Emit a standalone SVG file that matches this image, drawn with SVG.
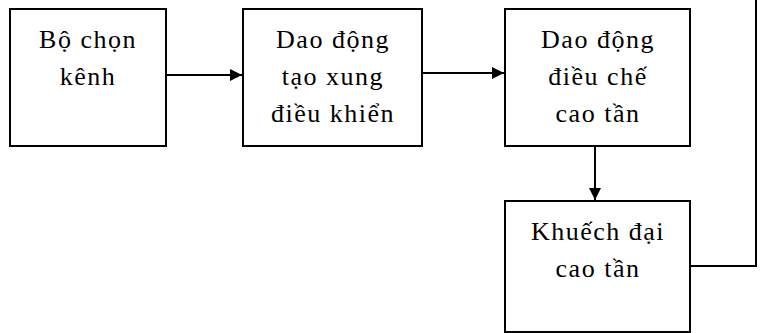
<svg xmlns="http://www.w3.org/2000/svg" width="770" height="333" viewBox="0 0 770 333">
<defs>
<marker id="arr" viewBox="0 0 10 10" refX="10" refY="5" markerWidth="6.5" markerHeight="6" markerUnits="strokeWidth" orient="auto">
<path d="M0,0 L10,5 L0,10 Z" fill="#000"/>
</marker>
<style>
.box{fill:#fff;stroke:#000;stroke-width:2}
.t{font-family:'Liberation Serif','Times New Roman',serif;font-size:26px;letter-spacing:1.5px;text-anchor:middle;fill:#000}
.c{fill:none;stroke:#000;stroke-width:2}
</style>
</defs>
<rect width="770" height="333" fill="#fff"/>
<g id="n1">
<rect class="box" x="10" y="9" width="156" height="137"/>
<text class="t" x="88" y="48">Bộ chọn</text>
<text class="t" x="88" y="85">kênh</text>
</g>
<g id="n2">
<rect class="box" x="243" y="9" width="179" height="137"/>
<text class="t" x="333" y="48">Dao động</text>
<text class="t" x="333" y="85">tạo xung</text>
<text class="t" x="333" y="122">điều khiển</text>
</g>
<g id="n3">
<rect class="box" x="505" y="9" width="185" height="137"/>
<text class="t" x="598" y="48">Dao động</text>
<text class="t" x="598" y="85">điều chế</text>
<text class="t" x="598" y="122">cao tần</text>
</g>
<g id="n4">
<rect class="box" x="505" y="201" width="185" height="131"/>
<text class="t" x="598" y="240">Khuếch đại</text>
<text class="t" x="598" y="277">cao tần</text>
</g>
<g id="connectors">
<line class="c" x1="166" y1="75" x2="242" y2="75" marker-end="url(#arr)"/>
<line class="c" x1="422" y1="73" x2="504" y2="73" marker-end="url(#arr)"/>
<line class="c" x1="595" y1="146" x2="595" y2="200" marker-end="url(#arr)"/>
<polyline class="c" points="690,266 756,266 756,0"/>
</g>
</svg>
